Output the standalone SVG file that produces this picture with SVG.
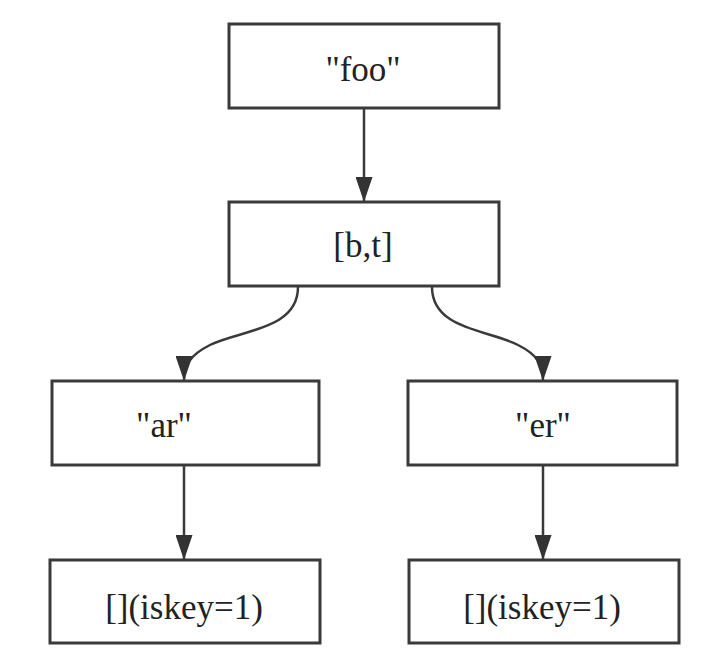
<svg xmlns="http://www.w3.org/2000/svg" width="719" height="656" viewBox="0 0 719 656">
<style>
.box{fill:#fff;stroke:#3a3a3a;stroke-width:3}
.lbl{font-family:"Liberation Serif","Times New Roman",serif;font-size:35px;fill:#222;text-anchor:middle}
.edge{fill:none;stroke:#3a3a3a;stroke-width:2.5}
</style>
<defs>
<marker id="arrD" viewBox="0 0 25 17" refX="25" refY="8.5" markerWidth="25" markerHeight="17" markerUnits="userSpaceOnUse" orient="auto">
<path d="M0,0 L25,8.5 L0,17 z" fill="#333"/>
</marker>
</defs>
<rect width="719" height="656" fill="#fff"/>
<g id="edges">
<path class="edge" d="M364,108 L364,202" marker-end="url(#arrD)"/>
<path class="edge" d="M298,287 C298,330 240,330 210,345 C190,355 184,365 184,381" marker-end="url(#arrD)"/>
<path class="edge" d="M432,287 C432,330 490,330 518,345 C538,355 543,365 543,381" marker-end="url(#arrD)"/>
<path class="edge" d="M184,465 L184,560" marker-end="url(#arrD)"/>
<path class="edge" d="M543,465 L543,560" marker-end="url(#arrD)"/>
</g>
<g id="n_foo"><rect class="box" x="229" y="24" width="270" height="84"/><text class="lbl" x="363" y="81">"foo"</text></g>
<g id="n_bt"><rect class="box" x="229" y="202" width="270" height="84"/><text class="lbl" x="363" y="257">[b,t]</text></g>
<g id="n_ar"><rect class="box" x="52" y="381" width="267" height="84"/><text class="lbl" x="164" y="437">"ar"</text></g>
<g id="n_er"><rect class="box" x="408" y="381" width="269" height="84"/><text class="lbl" x="543" y="437">"er"</text></g>
<g id="n_k1"><rect class="box" x="50" y="560" width="270" height="83"/><text class="lbl" x="184" y="619">[](iskey=1)</text></g>
<g id="n_k2"><rect class="box" x="409" y="560" width="270" height="83"/><text class="lbl" x="542" y="619">[](iskey=1)</text></g>
</svg>
